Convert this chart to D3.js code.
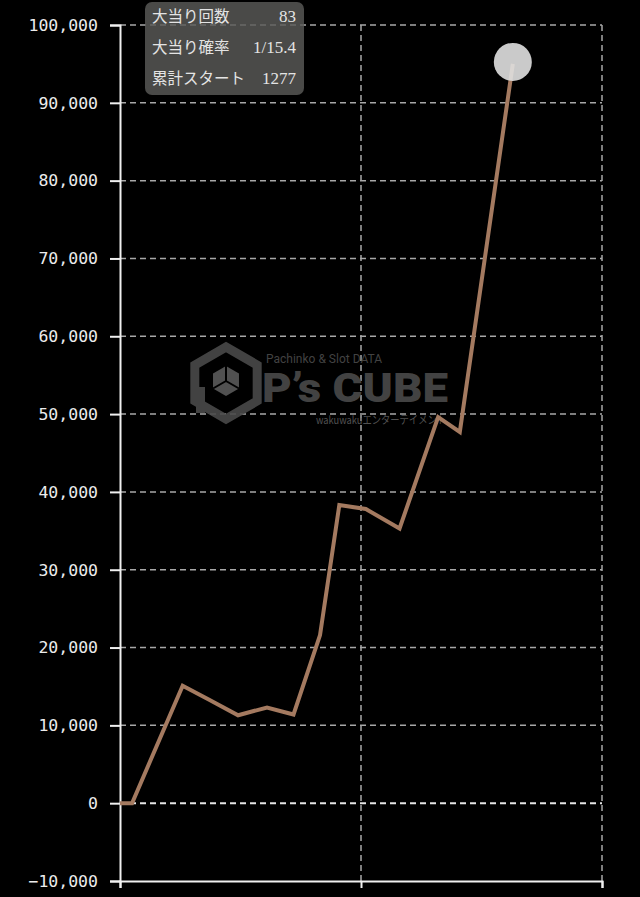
<!DOCTYPE html>
<html>
<head>
<meta charset="utf-8">
<script src="https://cdn.jsdelivr.net/npm/d3@7"></script>
<style>
  html, body { margin: 0; padding: 0; background: #000; }
  svg { display: block; }
</style>
</head>
<body>
<script>
'use strict';

// data
const games = [0, 50, 260, 370, 490, 610, 720, 830, 910, 1020, 1160, 1320, 1410, 1630];
const balance = [0, 0, 15100, 13300, 11300, 12300, 11400, 21600, 38300, 37800, 35300, 49600, 47700, 95000];
const xTicks = [0, 1000, 2000];
const yTicks = [-10000, 0, 10000, 20000, 30000, 40000, 50000, 60000, 70000, 80000, 90000, 100000];
const infoLabels = ['大当り回数', '大当り確率', '累計スタート'];
const infoValues = ['83', '1/15.4', '1277'];

(function() {
  const width = 640, height = 897;
  const left = 120, right = 602, top = 25, bottom = 881;

  const svg = d3.select('body').append('svg')
    .attr('width', width)
    .attr('height', height)
    .style('background', '#000');

  const x = d3.scaleLinear().domain([0, 2000]).range([left, right]);
  const y = d3.scaleLinear().domain([-10000, 100000]).range([bottom, top]);

  // horizontal grid lines
  svg.append('g').selectAll('line')
    .data(yTicks.filter(d => d !== -10000))
    .enter().append('line')
      .attr('x1', left).attr('x2', right)
      .attr('y1', d => y(d)).attr('y2', d => y(d))
      .attr('stroke', d => d === 0 ? '#e6e6e6' : '#a8a8a8')
      .attr('stroke-width', d => d === 0 ? 2 : 1.5)
      .attr('stroke-dasharray', '6,4');

  // vertical grid lines
  svg.append('g').selectAll('line')
    .data(xTicks.slice(1))
    .enter().append('line')
      .attr('x1', d => x(d)).attr('x2', d => x(d))
      .attr('y1', top).attr('y2', bottom)
      .attr('stroke', '#a8a8a8')
      .attr('stroke-width', 1.5)
      .attr('stroke-dasharray', '6,4');

  // watermark
  const wm = svg.append('g').attr('opacity', 0.9);
  const wmColor = '#4a4a4a';
  // hexagon cube logo
  const cx = 226, cy = 383, R = 36;
  const hex = d3.range(6).map(i => {
    const a = Math.PI / 3 * i - Math.PI / 2;
    return [cx + R * Math.cos(a), cy + R * Math.sin(a)];
  });
  wm.append('path')
    .attr('d', 'M' + hex.join('L') + 'Z')
    .attr('fill', 'none')
    .attr('stroke', wmColor)
    .attr('stroke-width', 9);
  const r2 = 15;
  const c2 = [cx, cy - 2];
  const inner = d3.range(6).map(i => {
    const a = Math.PI / 3 * i - Math.PI / 2;
    return [c2[0] + r2 * Math.cos(a), c2[1] + r2 * Math.sin(a)];
  });
  wm.append('path')
    .attr('d', 'M' + inner.join('L') + 'Z')
    .attr('fill', '#5a5a5a');
  wm.append('path')
    .attr('d', 'M' + c2.join(',') + 'L' + inner[0].join(',') + 'M' + c2.join(',') + 'L' + inner[2].join(',') + 'M' + c2.join(',') + 'L' + inner[4].join(','))
    .attr('stroke', '#000')
    .attr('stroke-width', 2);
  wm.append('rect')
    .attr('x', cx - 30).attr('y', cy + 4)
    .attr('width', 9).attr('height', 26)
    .attr('fill', wmColor);

  wm.append('text')
    .attr('x', 266).attr('y', 363)
    .attr('fill', wmColor)
    .style('font-family', 'Roboto, sans-serif')
    .style('font-size', '12px')
    .attr('textLength', 116)
    .text('Pachinko & Slot DATA');
  wm.append('text')
    .attr('x', 262).attr('y', 402)
    .attr('fill', wmColor)
    .style('font-family', 'Roboto, sans-serif')
    .style('font-weight', 900)
    .style('font-size', '40px')
    .attr('textLength', 186)
    .attr('lengthAdjust', 'spacingAndGlyphs')
    .text('P’s CUBE');
  wm.append('text')
    .attr('x', 316).attr('y', 424)
    .attr('fill', '#5a5a5a')
    .style('font-family', '"Noto Sans CJK JP", sans-serif')
    .style('font-size', '11px')
    .attr('textLength', 130)
    .attr('lengthAdjust', 'spacingAndGlyphs')
    .text('wakuwakuエンターテイメント');

  // axes
  const yAxis = svg.append('g')
    .attr('transform', `translate(${left},0)`)
    .call(d3.axisLeft(y).tickValues(yTicks).tickSize(10).tickPadding(12)
      .tickFormat(d3.format(',')));
  const xAxis = svg.append('g')
    .attr('transform', `translate(0,${bottom})`)
    .call(d3.axisBottom(x).tickValues(xTicks).tickSize(7).tickFormat(''));

  [yAxis, xAxis].forEach(g => {
    g.select('.domain').attr('stroke', '#f0f0f0').attr('stroke-width', 2);
    g.selectAll('.tick line').attr('stroke', '#f0f0f0').attr('stroke-width', 2);
  });
  yAxis.selectAll('text')
    .attr('fill', '#ececec')
    .style('font-family', '"DejaVu Sans Mono", monospace')
    .style('font-size', '16.5px');

  // balance line
  const pts = games.map((g, i) => [g, balance[i]]);
  svg.append('path')
    .datum(pts)
    .attr('fill', 'none')
    .attr('stroke', '#a47a60')
    .attr('stroke-width', 4)
    .attr('stroke-linejoin', 'miter')
    .attr('d', d3.line().x(d => x(d[0])).y(d => y(d[1])));

  // end marker
  const last = pts[pts.length - 1];
  svg.append('circle')
    .attr('cx', x(last[0]))
    .attr('cy', y(last[1]) - 2)
    .attr('r', 19)
    .attr('fill', '#e0e0e0')
    .attr('opacity', 0.9);

  // info box
  const info = svg.append('g');
  info.append('rect')
    .attr('x', 145).attr('y', 2)
    .attr('width', 159).attr('height', 93)
    .attr('rx', 7)
    .attr('fill', 'rgba(90,90,88,0.82)');
  infoLabels.forEach((t, i) => {
    info.append('text')
      .attr('x', 152).attr('y', 22 + i * 31)
      .attr('fill', '#e4e4e4')
      .style('font-family', '"Noto Sans CJK JP", sans-serif')
      .style('font-size', '15.5px')
      .text(t);
    info.append('text')
      .attr('x', 296).attr('y', 22 + i * 31)
      .attr('text-anchor', 'end')
      .attr('fill', '#e4e4e4')
      .style('font-family', '"Liberation Serif", serif')
      .style('font-size', '17px')
      .text(infoValues[i]);
  });
})();
</script>
</body>
</html>
